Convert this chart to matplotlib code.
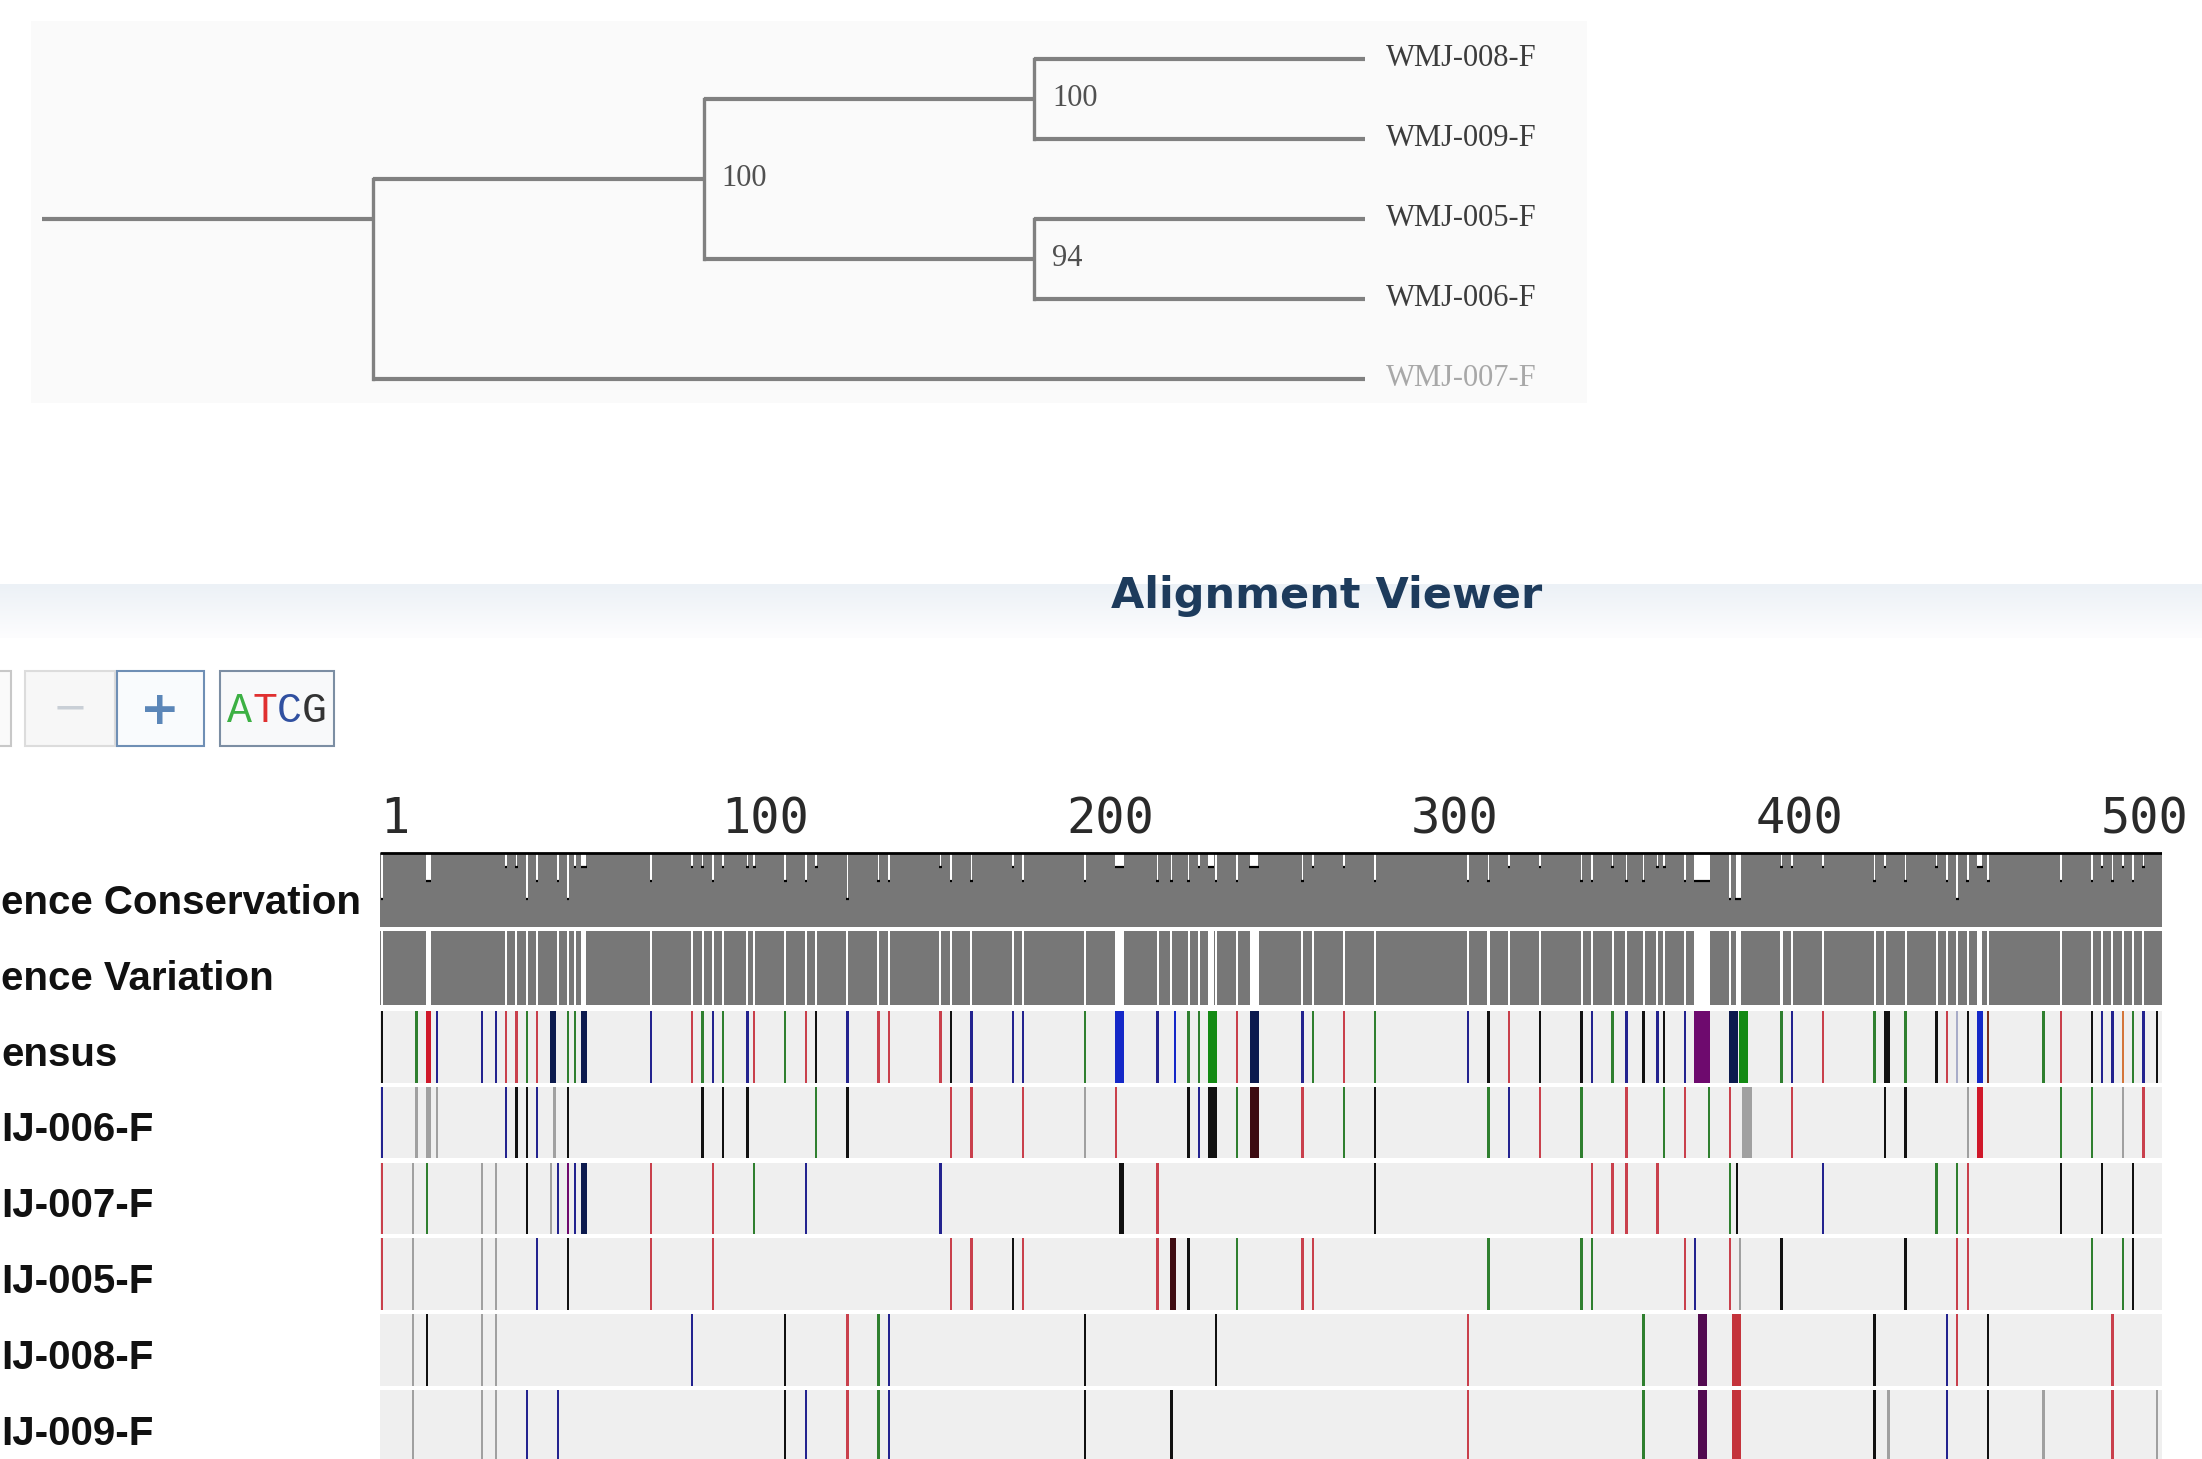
import numpy as np
import matplotlib
matplotlib.use("Agg")
import matplotlib.pyplot as plt
from matplotlib import transforms
from matplotlib.patches import Rectangle
from matplotlib.colors import LinearSegmentedColormap

W, H, DPI = 2202, 1459, 100

# ---------------- tree data ----------------
leaf_names = ["WMJ-008-F", "WMJ-009-F", "WMJ-005-F", "WMJ-006-F", "WMJ-007-F"]
leaf_colors = ["#3c3c3c", "#3c3c3c", "#3c3c3c", "#3c3c3c", "#a8a8a8"]
# (node, parent, depth)
tree_nodes = [
    ("root", None, 0),
    ("n0", "root", 1),
    ("n1", "n0", 2),
    ("n2a", "n1", 3),
    ("n2b", "n1", 3),
    ("WMJ-008-F", "n2a", 4),
    ("WMJ-009-F", "n2a", 4),
    ("WMJ-005-F", "n2b", 4),
    ("WMJ-006-F", "n2b", 4),
    ("WMJ-007-F", "n0", 4),
]
bootstrap = {"n1": "100", "n2a": "100", "n2b": "94"}

# ---------------- alignment data ----------------
seq_len = 517
ruler_ticks = [1, 100, 200, 300, 400, 500]

# conservation dips: (position, run length, conservation)
cons_dips = [
    (1, 1, .38), (14, 2, .62), (37, 1, .81), (40, 1, .81), (43, 1, .38), (46, 1, .62),
    (52, 1, .62), (55, 1, .38), (57, 1, .81), (59, 2, .81), (79, 1, .62), (91, 1, .81),
    (94, 1, .81), (97, 1, .62), (100, 1, .81), (107, 1, .81), (109, 1, .81), (118, 1, .62),
    (124, 1, .62), (127, 1, .81), (136, 1, .38), (145, 1, .62), (148, 1, .62), (163, 1, .81),
    (166, 1, .62), (172, 1, .62), (184, 1, .81), (187, 1, .62), (205, 1, .62), (214, 3, .81),
    (226, 1, .62), (230, 1, .62), (235, 1, .62), (238, 1, .81), (241, 2, .81), (243, 1, .62),
    (249, 1, .62), (253, 3, .81), (268, 1, .62), (271, 1, .81), (280, 1, .81), (289, 1, .62),
    (316, 1, .62), (322, 1, .62), (328, 1, .81), (337, 1, .81), (349, 1, .62), (352, 1, .62),
    (358, 1, .81), (362, 1, .62), (367, 1, .62), (371, 1, .81), (373, 1, .81), (379, 1, .62),
    (382, 5, .62), (392, 1, .38), (394, 2, .38), (407, 1, .81), (410, 1, .81), (419, 1, .81),
    (434, 1, .62), (437, 1, .81), (443, 1, .62), (452, 1, .81), (455, 1, .62), (458, 1, .38),
    (461, 1, .62), (464, 2, .81), (467, 1, .62), (488, 1, .62), (497, 1, .62), (500, 1, .81),
    (503, 1, .62), (506, 1, .81), (509, 1, .62), (512, 1, .81),
]

# differing sites per row: (position, run length, base code)
consensus_sites = [
    (1, 1, 'G'), (11, 1, 'A'), (14, 2, 'R'), (17, 1, 'C'), (30, 1, 'C'), (34, 1, 'C'),
    (37, 1, 'T'), (40, 1, 'T'), (43, 1, 'A'), (46, 1, 'T'), (50, 2, 'D'), (55, 1, 'A'),
    (57, 1, 'A'), (59, 2, 'D'), (79, 1, 'C'), (91, 1, 'T'), (94, 1, 'A'), (97, 1, 'C'),
    (100, 1, 'A'), (107, 1, 'C'), (109, 1, 'T'), (118, 1, 'A'), (124, 1, 'T'), (127, 1, 'G'),
    (136, 1, 'C'), (145, 1, 'T'), (148, 1, 'T'), (163, 1, 'T'), (166, 1, 'G'), (172, 1, 'C'),
    (184, 1, 'C'), (187, 1, 'C'), (205, 1, 'A'), (214, 3, 'B'), (226, 1, 'C'), (231, 1, 'B'),
    (235, 1, 'A'), (238, 1, 'A'), (241, 3, 'W'), (249, 1, 'T'), (253, 3, 'D'), (268, 1, 'C'),
    (271, 1, 'A'), (280, 1, 'T'), (289, 1, 'A'), (316, 1, 'C'), (322, 1, 'G'), (328, 1, 'T'),
    (337, 1, 'G'), (349, 1, 'G'), (352, 1, 'C'), (358, 1, 'A'), (362, 1, 'C'), (367, 1, 'G'),
    (371, 1, 'C'), (373, 1, 'G'), (379, 1, 'C'), (382, 5, 'P'), (392, 3, 'D'), (395, 3, 'W'),
    (407, 1, 'A'), (410, 1, 'C'), (419, 1, 'T'), (434, 1, 'A'), (437, 2, 'G'), (443, 1, 'A'),
    (452, 1, 'G'), (455, 1, 'T'), (458, 1, 'L'), (461, 1, 'G'), (464, 2, 'B'), (467, 1, 'K'),
    (483, 1, 'A'), (488, 1, 'T'), (497, 1, 'G'), (500, 1, 'C'), (503, 1, 'C'), (506, 1, 'O'),
    (509, 1, 'A'), (512, 1, 'C'), (516, 1, 'G'),
]
wmj006_sites = [
    (1, 1, 'C'), (11, 1, 'N'), (14, 2, 'N'), (17, 1, 'N'), (37, 1, 'C'), (40, 1, 'G'),
    (43, 1, 'G'), (46, 1, 'C'), (51, 1, 'N'), (55, 1, 'G'), (94, 1, 'G'), (100, 1, 'G'),
    (107, 1, 'G'), (127, 1, 'A'), (136, 1, 'G'), (166, 1, 'T'), (172, 1, 'T'), (187, 1, 'T'),
    (205, 1, 'N'), (214, 1, 'T'), (235, 1, 'G'), (238, 1, 'C'), (241, 3, 'G'), (249, 1, 'A'),
    (253, 3, 'M'), (268, 1, 'T'), (280, 1, 'A'), (289, 1, 'G'), (322, 1, 'A'), (328, 1, 'C'),
    (337, 1, 'T'), (349, 1, 'A'), (362, 1, 'T'), (373, 1, 'A'), (379, 1, 'T'), (386, 1, 'A'),
    (392, 1, 'T'), (396, 3, 'N'), (410, 1, 'T'), (437, 1, 'G'), (443, 1, 'G'), (461, 1, 'N'),
    (464, 2, 'R'), (488, 1, 'A'), (497, 1, 'A'), (506, 1, 'N'), (512, 1, 'T'),
]
wmj007_sites = [
    (1, 1, 'T'), (10, 1, 'N'), (14, 1, 'A'), (30, 1, 'N'), (34, 1, 'N'), (43, 1, 'G'),
    (50, 1, 'N'), (52, 1, 'C'), (55, 1, 'P'), (57, 1, 'C'), (59, 2, 'D'), (79, 1, 'T'),
    (97, 1, 'T'), (109, 1, 'A'), (124, 1, 'C'), (163, 1, 'C'), (215, 2, 'G'), (226, 1, 'T'),
    (289, 1, 'G'), (352, 1, 'T'), (358, 1, 'T'), (362, 1, 'T'), (371, 1, 'T'), (392, 1, 'A'),
    (394, 1, 'G'), (419, 1, 'C'), (452, 1, 'A'), (458, 1, 'A'), (461, 1, 'T'), (488, 1, 'G'),
    (500, 1, 'G'), (509, 1, 'G'),
]
wmj005_sites = [
    (1, 1, 'T'), (10, 1, 'N'), (30, 1, 'N'), (34, 1, 'N'), (46, 1, 'C'), (55, 1, 'G'),
    (79, 1, 'T'), (97, 1, 'T'), (166, 1, 'T'), (172, 1, 'T'), (184, 1, 'G'), (187, 1, 'T'),
    (226, 1, 'T'), (230, 2, 'M'), (235, 1, 'G'), (249, 1, 'A'), (268, 1, 'T'), (271, 1, 'T'),
    (322, 1, 'A'), (349, 1, 'A'), (352, 1, 'A'), (379, 1, 'T'), (382, 1, 'C'), (392, 1, 'T'),
    (395, 1, 'N'), (407, 1, 'G'), (443, 1, 'G'), (458, 1, 'T'), (461, 1, 'T'), (497, 1, 'A'),
    (506, 1, 'A'), (509, 1, 'G'),
]
wmj008_sites = [
    (10, 1, 'N'), (14, 1, 'G'), (30, 1, 'N'), (34, 1, 'N'), (91, 1, 'C'), (118, 1, 'G'),
    (136, 1, 'T'), (145, 1, 'A'), (148, 1, 'C'), (205, 1, 'G'), (243, 1, 'G'), (316, 1, 'T'),
    (367, 1, 'A'), (383, 3, 'V'), (393, 3, 'S'), (434, 1, 'G'), (455, 1, 'C'), (458, 1, 'T'),
    (467, 1, 'G'), (503, 1, 'T'),
]
wmj009_sites = [
    (10, 1, 'N'), (30, 1, 'N'), (34, 1, 'N'), (43, 1, 'C'), (52, 1, 'C'), (118, 1, 'G'),
    (124, 1, 'C'), (136, 1, 'T'), (145, 1, 'A'), (148, 1, 'C'), (205, 1, 'G'), (230, 1, 'G'),
    (316, 1, 'T'), (367, 1, 'A'), (383, 3, 'V'), (393, 3, 'S'), (434, 1, 'G'), (438, 1, 'N'),
    (455, 1, 'C'), (467, 1, 'G'), (483, 1, 'N'), (503, 1, 'T'), (516, 1, 'N'),
]
row_sites = [consensus_sites, wmj006_sites, wmj007_sites, wmj005_sites, wmj008_sites, wmj009_sites]
# labels as they appear in the screenshot (the left side of the panel is scrolled off)
track_labels = ["ence Conservation", "ence Variation"]
row_labels = ["ensus", "IJ-006-F", "IJ-007-F", "IJ-005-F", "IJ-008-F", "IJ-009-F"]

base_colors = {
    'A': '#2f7f2f', 'T': '#c9404c', 'C': '#23238f', 'G': '#111111', 'N': '#a0a0a0',
    'R': '#d0182a', 'D': '#0c1a4e', 'B': '#1428c8', 'W': '#138a13', 'P': '#6e0a6e',
    'M': '#3e0c12', 'V': '#520a50', 'S': '#c4333b', 'L': '#a8acc8', 'O': '#d4763a',
    'K': '#7a3020',
}

# ---------------- figure ----------------
fig = plt.figure(figsize=(W / DPI, H / DPI), dpi=DPI)
fig.patch.set_facecolor("white")


def frac_box(x0, y0, x1, y1):
    # pixel box (top-left origin) -> figure fraction rect
    return [x0 / W, 1 - y1 / H, (x1 - x0) / W, (y1 - y0) / H]


# background layer: tree panel, header band, buttons
ax_bg = fig.add_axes([0, 0, 1, 1])
ax_bg.axis("off")
ax_bg.add_patch(Rectangle((31, 21), 1556, 382, facecolor="#fafafa", edgecolor="none"))
band = LinearSegmentedColormap.from_list("band", ["#ecf1f6", "#fdfdfe"])
ax_bg.imshow(np.linspace(0, 1, 60).reshape(-1, 1), cmap=band, aspect="auto",
             extent=[0, W, 638, 584], zorder=0)
ax_bg.set_xlim(0, W)
ax_bg.set_ylim(H, 0)

buttons = [(-20, 11, "#c8c8c8", "#fafafa"), (25, 115, "#dcdcdc", "#f7f7f7"),
           (117, 204, "#6f8fb5", "#f9fbfd"), (220, 334, "#7c8ea3", "#f8f9fa")]
for bx0, bx1, ec, fc in buttons:
    ax_bg.add_patch(Rectangle((bx0, 671), bx1 - bx0, 75, facecolor=fc, edgecolor=ec, lw=1.5))
ax_bg.text(70, 709, "\u2212", ha="center", va="center", fontsize=30, color="#c9cfd6")
ax_bg.text(160, 711, "+", ha="center", va="center", fontsize=34, fontweight="bold",
           color="#5b86b8")
for k, (ch, col) in enumerate(zip("ATCG", ["#3cb043", "#e03030", "#3050a0", "#333333"])):
    ax_bg.text(227 + k * 25.0, 711, ch, ha="left", va="center", fontsize=30,
               family="Liberation Mono", color=col)

fig.text(1327 / W, 1 - 608 / H, "Alignment Viewer", ha="center", va="baseline",
         fontsize=31, fontweight="bold", family="DejaVu Sans", color="#1d3b5c")

# ---------------- tree ----------------
ax_tree = fig.add_axes(frac_box(42, 59, 1365, 379))
ax_tree.set_xlim(0, 4)
ax_tree.set_ylim(4, 0)
ax_tree.axis("off")
ax_tree.patch.set_alpha(0)

parent_of = {n: p for n, p, d in tree_nodes}
depth_of = {n: d for n, p, d in tree_nodes}
children = {n: [c for c, p, d in tree_nodes if p == n] for n, p, d in tree_nodes}
leaf_y = {name: i for i, name in enumerate(leaf_names)}


def leaves_under(n):
    if not children[n]:
        return [n]
    out = []
    for c in children[n]:
        out += leaves_under(c)
    return out


node_y = {n: np.mean([leaf_y[l] for l in leaves_under(n)]) for n in depth_of}
tree_col = "#808080"
for n, p, d in tree_nodes:
    if p is None:
        continue
    ax_tree.plot([depth_of[p], d], [node_y[n], node_y[n]], color=tree_col, lw=3.0,
                 solid_capstyle="butt", clip_on=False)
for n, kids in children.items():
    if len(kids) > 1 and parent_of[n] is not None:
        ys = [node_y[c] for c in kids]
        ax_tree.plot([depth_of[n]] * 2, [min(ys), max(ys)], color=tree_col, lw=2.4,
                     solid_capstyle="projecting", clip_on=False)
for name, col in zip(leaf_names, leaf_colors):
    ax_tree.annotate(name, (4, node_y[name]), xytext=(15, 0), textcoords="offset points",
                     ha="left", va="center", fontsize=22, family="Liberation Serif",
                     color=col, annotation_clip=False)
for n, lab in bootstrap.items():
    ax_tree.annotate(lab, (depth_of[n], node_y[n]), xytext=(13, 0), textcoords="offset points",
                     ha="left", va="center", fontsize=22, family="Liberation Serif",
                     color="#505050", annotation_clip=False)

# ---------------- alignment tracks ----------------
X0, X1 = 380.3, 380.3 + seq_len * 3.447
ax_cons = fig.add_axes(frac_box(X0, 852, X1, 927))
ax_var = fig.add_axes(frac_box(X0, 931, X1, 1005))
ax_seq = fig.add_axes(frac_box(X0, 1011, X1, H))
for ax in (ax_cons, ax_var, ax_seq):
    ax.set_xlim(0.5, seq_len + 0.5)
    ax.axis("off")
    ax.patch.set_alpha(0)

# conservation
ax_cons.set_ylim(0, 1.02)
ax_cons.bar(0.5, 1.0, width=seq_len, align="edge", color="#777777")
ax_cons.hlines(1.0, 0.5, seq_len + 0.5, color="black", lw=2.0)
for pos, n, val in cons_dips:
    ax_cons.bar(pos - 0.25, 1.05 - val, width=n - 0.5, bottom=val, align="edge",
                color="white", clip_on=False)
    ax_cons.hlines(val, pos - 0.35, pos + n - 1 + 0.35, color="black", lw=1.6)

# variation
ax_var.set_ylim(0, 1)
ax_var.bar(0.5, 1.0, width=seq_len, align="edge", color="#777777")
for pos, n, val in cons_dips:
    ax_var.bar(pos - 0.3, 1.0, width=n - 0.4, align="edge", color="white")

# ruler
ruler_tr = transforms.blended_transform_factory(ax_cons.transData, ax_cons.transAxes)
for t in ruler_ticks:
    ax_cons.text(t - 0.5, 1.25, str(t), transform=ruler_tr, ha="left", va="baseline",
                 fontsize=35, family="DejaVu Sans Mono", color="#2a2a2a", clip_on=False)

# sequence rows
n_rows_visible = (H - 1011) / 75.8
ax_seq.set_ylim(n_rows_visible, 0)
for i, sites in enumerate(row_sites):
    ax_seq.bar(0.5, 0.945, width=seq_len, bottom=i, align="edge", color="#efefef")
    for pos, n, base in sites:
        ax_seq.bar(pos - 0.33, 0.945, width=n - 0.34, bottom=i, align="edge",
                   color=base_colors[base])

# row labels
lab_kw = dict(ha="left", va="baseline", fontsize=29, fontweight="bold",
              family="Liberation Sans", color="#111111")
lx = 1 / W
fig.text(lx, 1 - 914 / H, track_labels[0], **lab_kw)
fig.text(lx, 1 - 990 / H, track_labels[1], **lab_kw)
seq_tr = transforms.blended_transform_factory(fig.transFigure, ax_seq.transData)
for i, name in enumerate(row_labels):
    ax_seq.text(lx, i + 0.72, name, transform=seq_tr, clip_on=False, **lab_kw)

fig.savefig("out.png", dpi=DPI)
